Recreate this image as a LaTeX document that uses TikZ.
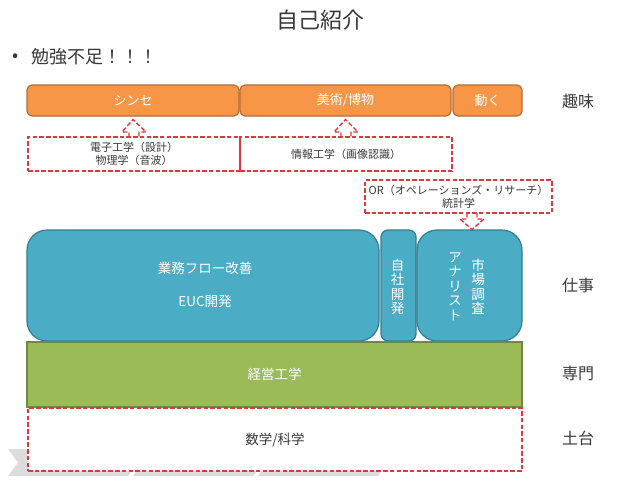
\documentclass[tikz,border=0pt]{standalone}
\usepackage{fontspec}
\setmainfont{Noto Sans CJK JP}
\usetikzlibrary{calc}
\definecolor{orgF}{HTML}{F79646}
\definecolor{orgD}{HTML}{B66D31}
\definecolor{bluF}{HTML}{4BACC6}
\definecolor{bluD}{HTML}{357D91}
\definecolor{grnF}{HTML}{9BBB59}
\definecolor{grnD}{HTML}{71893F}
\definecolor{redD}{HTML}{E0363C}
\definecolor{txt}{HTML}{383838}
\definecolor{chev}{HTML}{DCDCDC}
\tikzset{
  base/.style={inner sep=0pt, outer sep=0pt},
  orgbox/.style={base, draw=orgD, fill=orgF, line width=1.2pt, rounded corners=5pt, text=white, font=\fontsize{13}{15}\selectfont, minimum height=31pt},
  blubox/.style={base, draw=bluD, fill=bluF, line width=1.2pt, text=white, minimum height=111pt},
  reddash/.style={draw=redD, line width=1.4pt, dash pattern=on 4.5pt off 2.2pt},
  dbox/.style={base, reddash, text=txt, align=center, font=\fontsize{11}{13}\selectfont},
  lbl/.style={base, text=txt, font=\fontsize{16}{18}\selectfont},
  vtext/.style={base, text=white, align=center, font=\fontsize{13.5}{14.4}\selectfont},
  btext/.style={base, text=white, align=center},
}
\begin{document}
\begin{tikzpicture}[x=1pt,y=-1pt]
\path[use as bounding box, fill=white] (0,0) rectangle (640,480);
% background chevrons
\foreach \a in {8,133,258}{
  \fill[chev] (\a,449) -- (\a+120,449) -- (\a+130,462.5) -- (\a+120,476) -- (\a,476) -- (\a+10,462.5) -- cycle;
}
% title and bullet
\node[base, text=txt, font=\fontsize{22}{24}\selectfont] (title) at (320,20) {自己紹介};
\node[base, text=txt, font=\fontsize{18}{18}\selectfont] (bul) at (16,58) {•};
\node[base, anchor=west, text=txt, font=\fontsize{18}{20}\selectfont] (btxt) at (31,57) {勉強不足！！！};
% hobbies
\node[orgbox, minimum width=212pt] (synth) at (133,100.5) {シンセ};
\node[orgbox, minimum width=211pt] (art) at (345.5,100.5) {美術/博物};
\node[orgbox, minimum width=69pt] (move) at (487.5,100.5) {動く};
% dashed boxes
\node[dbox, minimum width=212pt, minimum height=34pt] (elec) at (134,154) {電子工学（設計）\\物理学（音波）};
\node[dbox, minimum width=212pt, minimum height=34pt] (info) at (346,154) {情報工学（画像認識）};
\node[dbox, minimum width=187pt, minimum height=33pt] (or) at (458.5,196.5) {OR（オペレーションズ・リサーチ）\\統計学};
% up arrows
\foreach \n/\t in {elec/synth, info/art}{
  \draw[reddash, line join=miter] ($(\n.north)+(-5,0)$) -- ++(0,-5) -- ++(-7,0) -- ($(\t.south)+(0,3.5)$) -- ($(\n.north)+(12,-5)$) -- ++(-7,0) -- ++(0,5);
}
% work boxes
\node[blubox, rounded corners=20pt, minimum width=352pt] (biz) at (203,285.5) {};
\node[btext, font=\fontsize{13.5}{33}\selectfont] (biztxt) at (205,284.5) {業務フロー改善\\EUC開発};
\node[blubox, rounded corners=7pt, minimum width=35pt] (dev) at (398.5,285.5) {};
\node[vtext] (devtxt) at (397.5,287) {自\\社\\開\\発};
\node[blubox, rounded corners=20pt, minimum width=105pt] (mkt) at (469.5,285.5) {};
\node[vtext] (mkt1) at (478,286.5) {市\\場\\調\\査};
\node[vtext] (mkt2) at (455,286.5) {ア\\ナ\\リ\\ス\\ト};
% down arrow
\draw[reddash, line join=miter] ($(or.south)+(8.5,0)$) -- ++(0,6) -- ++(-7,0) -- ($(mkt.north)+(2.5,-0.5)$) -- ($(or.south)+(25.5,6)$) -- ++(-7,0) -- ++(0,-6);
% specialty and foundation
\node[base, draw=grnD, fill=grnF, line width=1.2pt, minimum width=495pt, minimum height=65pt, text=white, font=\fontsize{13.5}{15}\selectfont] (eng) at (274.5,374.5) {経営工学};
\node[base, reddash, fill=white, minimum width=494pt, minimum height=63pt, text=txt, font=\fontsize{13.5}{15}\selectfont] (math) at (275,439.5) {数学/科学};
% right labels
\node[lbl] (l1) at (578,101) {趣味};
\node[lbl] (l2) at (578,285) {仕事};
\node[lbl] (l3) at (578,373) {専門};
\node[lbl] (l4) at (578,438) {土台};
\end{tikzpicture}
\end{document}
